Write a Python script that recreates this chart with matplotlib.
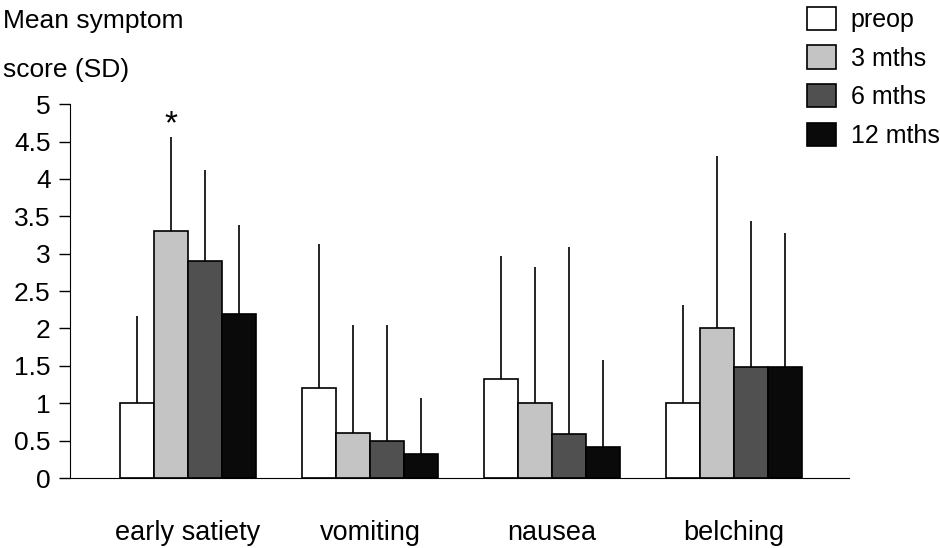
import matplotlib.pyplot as plt
import numpy as np

plt.rcParams['font.family'] = ['Liberation Sans', 'DejaVu Sans']

# symptoms and time points
symptoms = ['early satiety', 'vomiting', 'nausea', 'belching']
groups = ['preop', '3 mths', '6 mths', '12 mths']

# mean scores
preop = [1.0, 1.2, 1.32, 1.0]
m3 = [3.3, 0.6, 1.0, 2.0]
m6 = [2.9, 0.5, 0.59, 1.49]
m12 = [2.2, 0.32, 0.41, 1.49]

# top of the error bar (mean + SD)
preop_top = [2.17, 3.13, 2.97, 2.32]
m3_top = [4.56, 2.05, 2.82, 4.31]
m6_top = [4.12, 2.05, 3.09, 3.44]
m12_top = [3.39, 1.07, 1.58, 3.27]

colours = ['white', '#c4c4c4', '#505050', '#0a0a0a']

fig = plt.figure(figsize=(9.4, 5.48), dpi=100)
ax = fig.add_axes([0.0745, 0.1277, 0.8285, 0.6823])

x = np.arange(len(symptoms))
w = 0.187
means = [preop, m3, m6, m12]
tops = [preop_top, m3_top, m6_top, m12_top]
bars = []
for j in range(4):
    pos = x + (j - 1.5) * w
    sd = np.array(tops[j]) - np.array(means[j])
    b = ax.bar(pos, means[j], w, color=colours[j], edgecolor='black', linewidth=1.2,
               label=groups[j], zorder=2)
    ax.errorbar(pos, means[j], yerr=[np.zeros(4), sd], fmt='none', ecolor='black',
                elinewidth=1.2, capsize=0, zorder=1)
    bars.append(b)

# significance marker
ax.text(x[0] - 0.5 * w, 4.72, '*', ha='center', va='center', fontsize=24)

ax.set_xlim(-0.647, 3.63)
ax.set_ylim(0, 5)
ax.set_yticks(np.arange(0, 5.01, 0.5))
ax.set_yticklabels(['0', '0.5', '1', '1.5', '2', '2.5', '3', '3.5', '4', '4.5', '5'])
ax.tick_params(axis='y', direction='out', length=8, width=1, labelsize=19, pad=6)
ax.set_xticks(x)
ax.set_xticklabels(symptoms)
ax.tick_params(axis='x', length=0, labelsize=19.5, pad=30)
ax.spines['top'].set_visible(False)
ax.spines['right'].set_visible(False)

fig.text(0.003, 0.962, 'Mean symptom', fontsize=19, ha='left', va='center')
fig.text(0.003, 0.872, 'score (SD)', fontsize=19, ha='left', va='center')

fig.legend(handles=bars, labels=groups, loc='upper left', bbox_to_anchor=(0.84, 1.02),
           frameon=False, fontsize=18, handlelength=1.15, handleheight=1.05,
           labelspacing=0.55, handletextpad=0.6, borderpad=0.2)

fig.savefig('out.png', dpi=100)
